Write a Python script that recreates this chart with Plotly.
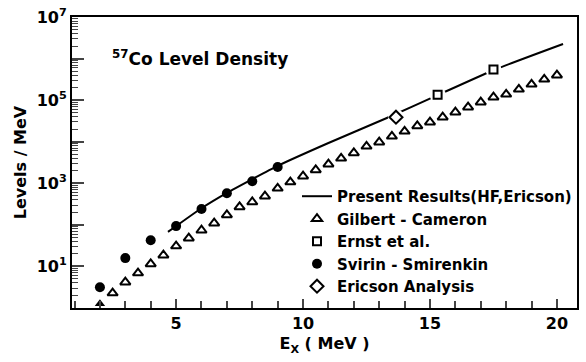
import plotly.graph_objects as go

# --- data ---
gc_x = [2, 2.5, 3, 3.5, 4, 4.5, 5, 5.5, 6, 6.5, 7, 7.5, 8, 8.5, 9, 9.5,
        10, 10.5, 11, 11.5, 12, 12.5, 13, 13.5, 14, 14.5, 15, 15.5,
        16, 16.5, 17, 17.5, 18, 18.5, 19, 19.5, 20]
gc_log = [0.10, 0.36, 0.62, 0.84, 1.06, 1.27, 1.49, 1.68, 1.87, 2.04, 2.24, 2.43,
          2.55, 2.69, 2.88, 3.03, 3.17, 3.32, 3.46, 3.60, 3.73, 3.89, 3.99, 4.13,
          4.25, 4.38, 4.47, 4.59, 4.71, 4.83, 4.95, 5.07, 5.14, 5.26, 5.38, 5.50, 5.60]
gc_y = [10 ** v for v in gc_log]

ss_x = [2, 3, 4, 5, 6, 7, 8, 9]
ss_log = [0.50, 1.20, 1.63, 1.97, 2.38, 2.76, 3.05, 3.39]
ss_y = [10 ** v for v in ss_log]

ernst_x = [15.3, 17.5]
ernst_log = [5.13, 5.74]
ernst_y = [10 ** v for v in ernst_log]

eric_x = [13.66]
eric_log = [4.59]
eric_y = [10 ** v for v in eric_log]

hf_x = [4.68, 6.0, 7.0, 8.0, 9.0, 11.0, 13.3, 15.3, 17.5, 20.24]
hf_log = [1.83, 2.40, 2.77, 3.10, 3.42, 3.97, 4.57, 5.12, 5.72, 6.35]
hf_y = [10 ** v for v in hf_log]

x_ticks = [5, 10, 15, 20]
y_major = [10 ** k for k in range(0, 8)]
y_labels = ["", "10<sup>1</sup>", "", "10<sup>3</sup>", "", "10<sup>5</sup>", "", "10<sup>7</sup>"]
y_minor = [m * 10 ** k for k in range(0, 7) for m in range(2, 10)]
x_minor = list(range(1, 21))

FONT = "DejaVu Sans"
W = "bold"

fig = go.Figure()

fig.add_trace(go.Scatter(x=hf_x, y=hf_y, mode="lines", line=dict(color="black", width=2, shape="spline", smoothing=0.6),
                         name="Present Results(HF,Ericson)"))
fig.add_trace(go.Scatter(x=gc_x[1:], y=gc_y[1:], mode="markers",
                         marker=dict(symbol="triangle-up-open", size=9, color="black", line=dict(width=2)),
                         name="Gilbert - Cameron"))
fig.add_trace(go.Scatter(x=gc_x[:1], y=gc_y[:1], mode="markers", showlegend=False,
                         marker=dict(symbol="triangle-up", size=9, color="black")))
# white halos behind open markers sitting on the line
fig.add_trace(go.Scatter(x=ernst_x + eric_x, y=ernst_y + eric_y, mode="markers", showlegend=False,
                         marker=dict(symbol="circle", size=16, color="white"), hoverinfo="skip"))
fig.add_trace(go.Scatter(x=ernst_x, y=ernst_y, mode="markers",
                         marker=dict(symbol="square", size=8, color="white", line=dict(color="black", width=2)),
                         name="Ernst et al."))
fig.add_trace(go.Scatter(x=ss_x, y=ss_y, mode="markers",
                         marker=dict(symbol="circle", size=10, color="black"),
                         name="Svirin - Smirenkin"))
fig.add_trace(go.Scatter(x=eric_x, y=eric_y, mode="markers",
                         marker=dict(symbol="diamond", size=10, color="white", line=dict(color="black", width=2)),
                         name="Ericson Analysis"))

fig.update_layout(
    width=586, height=362,
    margin=dict(l=72, r=9, t=17, b=54, autoexpand=False),
    paper_bgcolor="white", plot_bgcolor="white",
    font=dict(family=FONT, size=15, color="black", weight=W),
    showlegend=True,
    legend=dict(x=1.0, xanchor="right", y=0.44, yanchor="top", bgcolor="rgba(0,0,0,0)",
                font=dict(family=FONT, size=15, color="black", weight=W), tracegroupgap=0, itemwidth=30),
    annotations=[dict(text="<sup>57</sup>Co Level Density", xref="paper", yref="paper",
                      x=0.075, y=0.86, xanchor="left", yanchor="middle", showarrow=False,
                      font=dict(family=FONT, size=17, color="black", weight=W))],
)

fig.update_xaxes(range=[0.9, 20.79], tickvals=x_ticks, ticks="inside", ticklen=9, tickwidth=1.5,
                 showline=True, linecolor="black", linewidth=2, mirror=True, showgrid=False, zeroline=False,
                 tickfont=dict(size=16, weight=W),
                 title=dict(text="E<sub>X</sub> ( MeV )", font=dict(size=16, weight=W), standoff=6),
                 minor=dict(tickvals=x_minor, ticks="inside", ticklen=7, tickwidth=1.5, showgrid=False))
fig.update_yaxes(type="log", range=[0, 7], tickvals=y_major, ticktext=y_labels, ticks="inside", ticklen=12,
                 tickwidth=1.5, showline=True, linecolor="black", linewidth=2, mirror=True, showgrid=False,
                 zeroline=False, tickfont=dict(size=16, weight=W),
                 title=dict(text="Levels / MeV", font=dict(size=16, weight=W), standoff=6),
                 minor=dict(tickvals=y_minor, ticks="inside", ticklen=6, tickwidth=1, showgrid=False))

fig.write_html("out.html")
